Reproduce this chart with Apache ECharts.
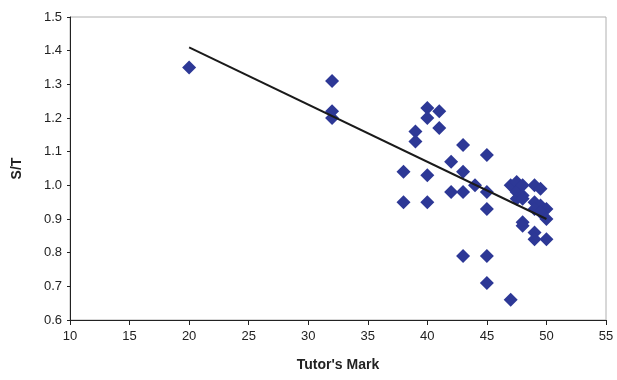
<!DOCTYPE html>
<html><head><meta charset="utf-8">
<script src="https://cdn.jsdelivr.net/npm/echarts@6/dist/echarts.min.js"></script>
<style>html,body{margin:0;padding:0;background:#fff}#c{width:617px;height:380px}</style>
</head><body><div id="c"></div>
<script>
const tutorMark = [20,32,32,32,38,38,39,39,40,40,40,40,41,41,42,42,43,43,43,43,44,45,45,45,45,45,47,47,47.5,47.5,47.5,48,48,48,49,49.5,49,49.5,49,50,49.5,50,48,48,49,49,50];
const stRatio   = [1.35,1.31,1.22,1.20,1.04,0.95,1.16,1.13,1.23,1.20,1.03,0.95,1.22,1.17,1.07,0.98,1.12,1.04,0.98,0.79,1.00,1.09,0.98,0.93,0.79,0.71,0.66,1.00,1.01,0.98,0.96,1.00,0.97,0.96,1.00,0.99,0.95,0.94,0.93,0.93,0.92,0.90,0.89,0.88,0.86,0.84,0.84];
const trendX = [20,50];
const trendY = [1.41,0.90];

const pts = tutorMark.map((x,i)=>[x,stRatio[i]]);
const trend = trendX.map((x,i)=>[x,trendY[i]]);
const chart = echarts.init(document.getElementById('c'));
const lab = {color:'#222',fontFamily:'Liberation Sans, Arial, sans-serif',fontSize:13};
chart.setOption({
  animation:false,
  grid:{left:70,right:11,top:17,bottom:60,show:true,borderColor:'#b0b0b0',borderWidth:1},
  xAxis:{type:'value',min:10,max:55,interval:5,
    name:"Tutor's Mark",nameLocation:'middle',nameGap:38,
    nameTextStyle:{fontFamily:'Liberation Sans, Arial, sans-serif',fontSize:14,fontWeight:'bold',color:'#222'},
    axisLine:{show:true,lineStyle:{color:'#222',width:1}},
    axisTick:{show:true,length:5,lineStyle:{color:'#222'}},
    axisLabel:Object.assign({margin:10},lab),
    splitLine:{show:false}},
  yAxis:{type:'value',min:0.6,max:1.5,interval:0.1,
    name:'S/T',nameLocation:'middle',nameGap:46,
    nameTextStyle:{fontFamily:'Liberation Sans, Arial, sans-serif',fontSize:14,fontWeight:'bold',color:'#222'},
    axisLine:{show:true,lineStyle:{color:'#222',width:1}},
    axisTick:{show:true,length:3,lineStyle:{color:'#222'}},
    axisLabel:Object.assign({margin:8,formatter:v=>v.toFixed(1)},lab),
    splitLine:{show:false}},
  series:[
    {type:'scatter',data:pts,symbol:'diamond',symbolSize:14,
     itemStyle:{color:'#2D3896',opacity:1},z:2},
    {type:'line',data:trend,symbol:'none',lineStyle:{color:'#1a1a1a',width:2},z:3}
  ]
});
</script></body></html>
